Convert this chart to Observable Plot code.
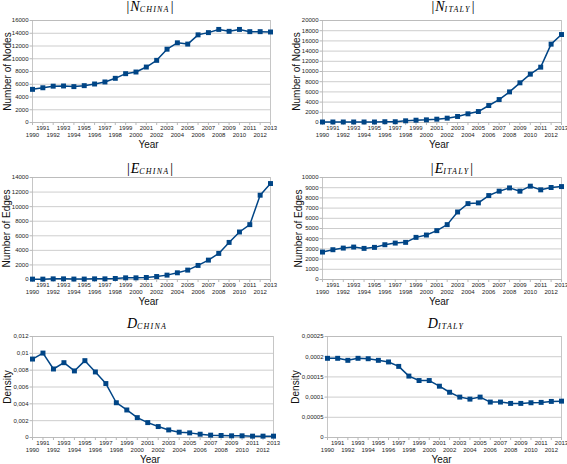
<!DOCTYPE html>
<html><head><meta charset="utf-8">
<script src="https://cdn.jsdelivr.net/npm/d3@7"></script>
<script src="https://cdn.jsdelivr.net/npm/@observablehq/plot@0.6"></script>
<style>
body{margin:0;background:#fff;}
#chart{position:relative;width:567px;height:464px;background:#fff;overflow:hidden;}
.panel{position:absolute;}
.title{position:absolute;width:120px;text-align:center;font-family:"Liberation Serif","Times New Roman",serif;font-style:italic;font-size:14px;line-height:14px;color:#000;white-space:nowrap;-webkit-font-smoothing:antialiased;}
.title .sub{font-size:8px;letter-spacing:1.2px;position:relative;top:1px;color:#000;}
.title .bar{font-style:normal;padding:0 1px;color:#000;}
</style></head><body><div id="chart"></div>
<script>
const years = [1990,1991,1992,1993,1994,1995,1996,1997,1998,1999,2000,2001,2002,2003,2004,2005,2006,2007,2008,2009,2010,2011,2012,2013];
const oddYears = [1991,1993,1995,1997,1999,2001,2003,2005,2007,2009,2011,2013];
const evenYears = [1990,1992,1994,1996,1998,2000,2002,2004,2006,2008,2010,2012];

const nChina = [5200,5450,5700,5730,5630,5780,6040,6360,6930,7660,7920,8700,9750,11500,12500,12300,13750,14100,14600,14300,14600,14250,14250,14200];
const nItaly = [100,100,100,100,100,100,150,150,330,450,520,650,850,1180,1700,2150,3330,4500,6000,7780,9480,10850,15360,17250];
const eChina = [50,50,90,90,60,60,90,90,140,230,230,280,410,600,920,1290,1930,2660,3580,5090,6520,7530,11570,13170];
const eItaly = [2690,2920,3080,3180,3050,3150,3410,3570,3640,4130,4360,4790,5380,6620,7440,7510,8230,8660,8980,8660,9150,8790,9020,9110];
const dChina = [0.00932,0.01003,0.00814,0.00889,0.00791,0.00913,0.00779,0.00641,0.00413,0.00327,0.00236,0.00177,0.0013,0.0009,0.00063,0.00055,0.00039,0.00028,0.00024,0.0002,0.0002,0.00016,0.00016,0.00016];
const dItaly = [0.000196,0.000196,0.000191,0.000196,0.000195,0.000191,0.000187,0.000176,0.000152,0.000141,0.000141,0.000127,0.000112,0.0001,0.000095,0.0001,0.0000877,0.0000877,0.0000844,0.0000844,0.000086,0.0000869,0.0000893,0.00009];

const ticksNChina = [0,2000,4000,6000,8000,10000,12000,14000,16000];
const ticksNItaly = [0,2000,4000,6000,8000,10000,12000,14000,16000,18000,20000];
const ticksEChina = [0,2000,4000,6000,8000,10000,12000,14000];
const ticksEItaly = [0,1000,2000,3000,4000,5000,6000,7000,8000,9000,10000];
const ticksDChina = [0,0.002,0.004,0.006,0.008,0.01,0.012];
const ticksDItaly = [0,0.00005,0.0001,0.00015,0.0002,0.00025];

const ylabelNodes = "Number of Nodes";
const ylabelEdges = "Number of Edges";
const ylabelDensity = "Density";
const xlabel = "Year";

const panels = [
  {sym:"N", sub:"CHINA", bars:true, values:nChina, ticks:ticksNChina, ylabel:ylabelNodes,
   x0:0, y0:0, w:284, h:152, ml:32, mr:14, mt:20, mb:30, ylx:7, tcx:150, tty:0},
  {sym:"N", sub:"ITALY", bars:true, values:nItaly, ticks:ticksNItaly, ylabel:ylabelNodes,
   x0:284, y0:0, w:283, h:152, ml:38, mr:6, mt:20, mb:30, ylx:296, tcx:453, tty:0},
  {sym:"E", sub:"CHINA", bars:true, values:eChina, ticks:ticksEChina, ylabel:ylabelEdges,
   x0:0, y0:152, w:284, h:155, ml:32, mr:14, mt:25, mb:28, ylx:6, tcx:150, tty:162},
  {sym:"E", sub:"ITALY", bars:true, values:eItaly, ticks:ticksEItaly, ylabel:ylabelEdges,
   x0:284, y0:152, w:283, h:155, ml:38, mr:6, mt:25, mb:28, ylx:298, tcx:452, tty:162},
  {sym:"D", sub:"CHINA", bars:false, values:dChina, ticks:ticksDChina, ylabel:ylabelDensity,
   x0:0, y0:307, w:284, h:157, ml:32, mr:11, mt:29, mb:27, ylx:7, tcx:147, tty:317},
  {sym:"D", sub:"ITALY", bars:false, values:dItaly, ticks:ticksDItaly, ylabel:ylabelDensity,
   x0:284, y0:307, w:283, h:157, ml:43, mr:6, mt:29, mb:27, ylx:295, tcx:446, tty:317}
];

const BLUE = "#004586";
const GRID = "#b8b8b8";
const FONT = "'Liberation Sans Narrow','Liberation Sans',Arial,sans-serif";
const fmt = d => String(d).replace(".", ",");

const chart = document.getElementById("chart");

for (const p of panels) {
  const data = years.map((yr, i) => ({year: yr, value: p.values[i]}));
  const ymax = p.ticks[p.ticks.length - 1];
  const svg = Plot.plot({
    width: p.w, height: p.h,
    marginLeft: p.ml, marginRight: p.mr, marginTop: p.mt, marginBottom: p.mb,
    style: {fontFamily: FONT, background: "transparent", color: "#222", overflow: "visible"},
    x: {domain: [1990, 2013]},
    y: {domain: [0, ymax]},
    marks: [
      Plot.gridY(p.ticks, {stroke: GRID, strokeOpacity: 1, strokeWidth: 0.7}),
      Plot.frame({stroke: GRID, strokeWidth: 0.8}),
      Plot.axisY(p.ticks, {tickSize: 2.5, tickPadding: 1.5, fontSize: 6, tickFormat: fmt, stroke: GRID, label: null}),
      Plot.axisX(years, {tickSize: 3, tickFormat: () => "", stroke: GRID, label: null}),
      Plot.axisX(oddYears, {tickSize: 0, tickPadding: 3, fontSize: 6, tickFormat: d => String(d), label: null}),
      Plot.axisX(evenYears, {tickSize: 0, tickPadding: 10, fontSize: 6, tickFormat: d => String(d), label: null}),
      Plot.text([xlabel], {frameAnchor: "bottom", lineAnchor: "middle", textAnchor: "middle", dy: 22, dx: -3, text: d => d, fontSize: 10, fill: "#111"}),
      Plot.text([p.ylabel], {frameAnchor: "left", textAnchor: "middle", lineAnchor: "middle", dx: -(p.x0 + p.ml - p.ylx), rotate: -90, text: d => d, fontSize: 10, fill: "#111"}),
      Plot.line(data, {x: "year", y: "value", stroke: BLUE, strokeWidth: 1.5}),
      Plot.dot(data, {x: "year", y: "value", symbol: "square", r: 2.8, fill: BLUE, stroke: "none"})
    ]
  });
  const div = document.createElement("div");
  div.className = "panel";
  div.style.left = p.x0 + "px";
  div.style.top = p.y0 + "px";
  div.appendChild(svg);
  chart.appendChild(div);

  const t = document.createElement("div");
  t.className = "title";
  t.style.left = (p.tcx - 60) + "px";
  t.style.top = p.tty + "px";
  const bar = p.bars ? '<span class="bar">|</span>' : '';
  t.innerHTML = bar + p.sym + '<span class="sub">' + p.sub + '</span>' + bar;
  chart.appendChild(t);
}
</script></body></html>
